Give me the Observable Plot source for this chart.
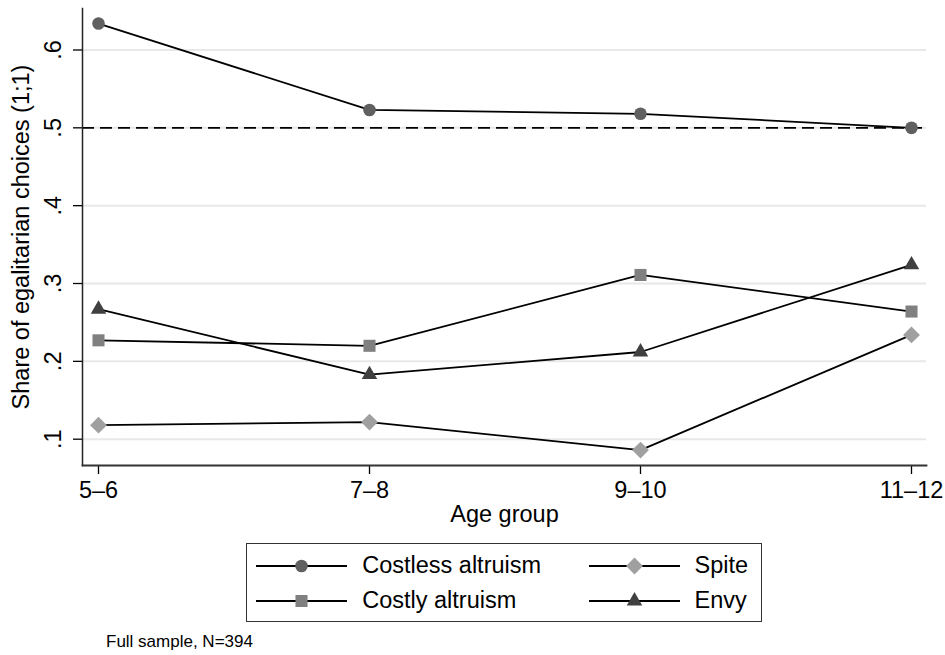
<!DOCTYPE html>
<html>
<head>
<meta charset="utf-8">
<script src="https://cdn.jsdelivr.net/npm/d3@7"></script>
<script src="https://cdn.jsdelivr.net/npm/@observablehq/plot@0.6"></script>
<style>
  html, body { margin: 0; padding: 0; background: #fff; }
  body { font-family: "Liberation Sans", Arial, Helvetica, sans-serif; color: #000; }
  #wrap { position: relative; width: 945px; height: 655px; overflow: hidden; }
  #legend { position: absolute; left: 246px; top: 543px; width: 516px; height: 79px;
            border: 1.5px solid #333; box-sizing: border-box; }
  .item { position: absolute; height: 30px; display: flex; align-items: center; font-size: 23.5px; white-space: nowrap; }
  .item svg { display: block; margin-right: 15px; }
  #caption { position: absolute; left: 106px; top: 632.5px; font-size: 17px; line-height: 1; white-space: nowrap; }
</style>
</head>
<body>
<div id="wrap">
  <div id="chart"></div>
  <div id="legend"></div>
  <div id="caption"></div>
</div>
<script>
// ---- data ----
const ageGroups = ["5–6", "7–8", "9–10", "11–12"];
const seriesNames = ["Costless altruism", "Costly altruism", "Spite", "Envy"];
const costlessAltruism = [0.634, 0.523, 0.518, 0.500];
const costlyAltruism = [0.227, 0.220, 0.311, 0.264];
const spite = [0.118, 0.122, 0.086, 0.234];
const envy = [0.267, 0.183, 0.212, 0.324];
const yTicks = [0.1, 0.2, 0.3, 0.4, 0.5, 0.6];
const yTickLabels = [".1", ".2", ".3", ".4", ".5", ".6"];
const referenceLine = [0.5];
const yTitle = "Share of egalitarian choices (1;1)";
const xTitle = "Age group";
const captionText = "Full sample, N=394";

// ---- styles ----
const symbols = ["circle", "square", "diamond2", "triangle2"];
const fills = ["#606060", "#808080", "#a0a0a0", "#404040"];
const markerRadii = [6.3, 6.8, 7.6, 7.4];
const FONT = "23.5px";

const seriesValues = [costlessAltruism, costlyAltruism, spite, envy];
const rows = [];
seriesNames.forEach((s, si) => {
  ageGroups.forEach((a, ai) => rows.push({series: s, age: a, value: seriesValues[si][ai]}));
});
const tickRows = yTicks.map((v, i) => ({v, label: yTickLabels[i]}));
const radiusOf = s => markerRadii[seriesNames.indexOf(s)];

const chart = Plot.plot({
  width: 945,
  height: 535,
  marginLeft: 82,
  marginRight: 19,
  marginTop: 8,
  marginBottom: 70,
  style: {fontFamily: '"Liberation Sans", Arial, Helvetica, sans-serif', fontSize: FONT, color: "#000", background: "#fff"},
  x: {type: "point", domain: ageGroups, padding: 0, insetLeft: 15.7, insetRight: 15.3},
  y: {domain: [0.0662, 0.6533]},
  r: {type: "identity"},
  color: {domain: seriesNames, range: fills},
  symbol: {domain: seriesNames, range: symbols},
  marks: [
    Plot.gridY(yTicks, {stroke: "#e8e8e8", strokeOpacity: 1, strokeWidth: 2}),
    Plot.ruleY(referenceLine, {stroke: "#000", strokeWidth: 1.8, strokeDasharray: "12,6"}),
    Plot.axisY({ticks: yTicks, tickSize: 9, tickFormat: () => "", label: null, stroke: "#000", strokeWidth: 1.3}),
    Plot.text(tickRows, {y: "v", text: "label", frameAnchor: "left", rotate: -90, textAnchor: "middle", lineAnchor: "bottom", dx: -22, fontSize: FONT}),
    Plot.text([yTitle], {text: d => d, frameAnchor: "left", rotate: -90, textAnchor: "middle", lineAnchor: "top", dx: -70.3, fontSize: FONT}),
    Plot.axisX({tickSize: 9, tickPadding: 6.7, label: null, stroke: "#000", strokeWidth: 1.3, fontSize: FONT}),
    Plot.text([xTitle], {text: d => d, frameAnchor: "bottom", lineAnchor: "top", dy: 39.5, fontSize: FONT}),
    Plot.frame({anchor: "left", stroke: "#222", strokeWidth: 1.5}),
    Plot.frame({anchor: "bottom", stroke: "#333", strokeWidth: 1.8}),
    Plot.line(rows, {x: "age", y: "value", z: "series", stroke: "#000", strokeWidth: 1.8}),
    Plot.dot(rows, {x: "age", y: "value", symbol: "series", fill: "series", r: d => radiusOf(d.series)})
  ]
});
document.getElementById("chart").appendChild(chart);

// ---- legend ----
const symbolTypes = {circle: d3.symbolCircle, square: d3.symbolSquare, diamond2: d3.symbolDiamond2, triangle2: d3.symbolTriangle2};
const legend = document.getElementById("legend");
const colLefts = [9.2, 341.5];
const rowCenters = [21.5, 56.5];
seriesNames.forEach((name, i) => {
  const col = Math.floor(i / 2), row = i % 2;
  const item = document.createElement("div");
  item.className = "item";
  item.style.left = colLefts[col] + "px";
  item.style.top = (rowCenters[row] - 15) + "px";
  const r = markerRadii[i];
  const path = d3.symbol(symbolTypes[symbols[i]], Math.PI * r * r)();
  item.innerHTML = `<svg width="91" height="30"><line x1="0" x2="91" y1="15" y2="15" stroke="#000" stroke-width="1.8"/>` +
    `<path d="${path}" transform="translate(45.5,15)" fill="${fills[i]}"/></svg><span>${name}</span>`;
  legend.appendChild(item);
});
document.getElementById("caption").textContent = captionText;
</script>
</body>
</html>
